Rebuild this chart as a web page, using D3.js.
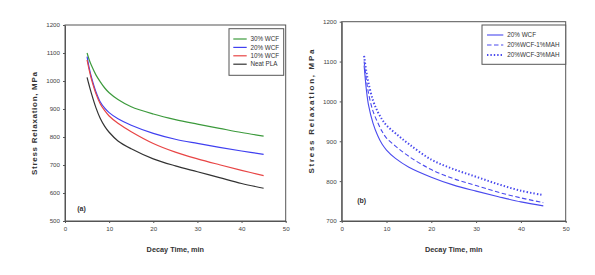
<!DOCTYPE html>
<html>
<head>
<meta charset="utf-8">
<script src="https://cdn.jsdelivr.net/npm/d3@7"></script>
<style>
  body { margin: 0; background: #fff; }
  text { font-family: "Liberation Sans", Arial, sans-serif; }
</style>
</head>
<body>
<script>
// panel (a) data
var timeA = [5, 5.5, 6, 7, 8, 9, 10, 12, 15, 20, 25, 30, 35, 40, 45];
var wcf30 = [1100, 1075, 1055, 1022, 997, 975, 958, 934, 908, 882, 862, 846, 831, 816, 803];
var wcf20 = [1087, 1045, 1013, 962, 925, 903, 887, 865, 842, 813, 792, 777, 763, 750, 738];
var wcf10 = [1075, 1038, 1006, 955, 918, 894, 875, 849, 819, 777, 746, 722, 701, 681, 662];
var neatPla = [1013, 983, 955, 905, 866, 838, 817, 786, 758, 722, 697, 676, 655, 634, 617];

// panel (b) data
var timeB = [5, 5.5, 6, 7, 8, 9, 10, 12, 15, 20, 25, 30, 35, 40, 45];
var wcf20b = [1090, 1030, 990, 945, 915, 893, 878, 857, 835, 810, 790, 775, 761, 748, 738];
var mah1 = [1100, 1055, 1020, 975, 948, 925, 908, 888, 862, 829, 806, 789, 772, 758, 746];
var mah3 = [1114, 1075, 1045, 1002, 975, 955, 940, 920, 893, 854, 830, 811, 792, 776, 765];

var xTicks = [0, 10, 20, 30, 40, 50];
var yTicksA = [500, 600, 700, 800, 900, 1000, 1100, 1200];
var yTicksB = [700, 800, 900, 1000, 1100, 1200];

var svg = d3.select("body").append("svg")
    .attr("width", 595)
    .attr("height", 275);

function panel(opt) {
    var x = d3.scaleLinear().domain([0, 50]).range([opt.left, opt.right]);
    var y = d3.scaleLinear().domain(opt.yDomain).range([opt.bottom, opt.top]);
    var g = svg.append("g");

    g.append("rect")
        .attr("x", opt.left).attr("y", opt.top)
        .attr("width", opt.right - opt.left).attr("height", opt.bottom - opt.top)
        .attr("fill", "none").attr("stroke", "#555").attr("stroke-width", 1);

    var ax = g.append("g")
        .attr("transform", "translate(0," + opt.bottom + ")")
        .call(d3.axisBottom(x).tickValues(xTicks).tickFormat(d3.format("d"))
            .tickSize(2).tickSizeOuter(0).tickPadding(4));
    var ay = g.append("g")
        .attr("transform", "translate(" + opt.left + ",0)")
        .call(d3.axisLeft(y).tickValues(opt.yTicks).tickFormat(d3.format("d"))
            .tickSize(2).tickSizeOuter(0).tickPadding(3));
    [ax, ay].forEach(function (a) {
        a.select(".domain").attr("stroke", "#555");
        a.selectAll(".tick line").attr("stroke", "#555");
        a.selectAll(".tick text").attr("fill", "#444")
            .style("font-size", "6.2px");
    });

    // axis titles
    g.append("text")
        .attr("x", (opt.left + opt.right) / 2)
        .attr("y", opt.bottom + 31)
        .attr("text-anchor", "middle")
        .style("font-size", "7.3px").style("font-weight", "bold").attr("fill", "#333")
        .text("Decay Time, min");
    g.append("text")
        .attr("transform", "translate(" + opt.yTitleX + "," + opt.yTitleY + ") rotate(-90)")
        .attr("text-anchor", "middle")
        .attr("textLength", opt.yTitleLen).attr("lengthAdjust", "spacing")
        .style("font-size", "8px").style("font-weight", "bold").attr("fill", "#333")
        .text("Stress Relaxation, MPa");

    // panel label
    g.append("text")
        .attr("x", opt.labelX).attr("y", opt.labelY)
        .attr("text-anchor", "middle")
        .style("font-size", "7px").style("font-weight", "bold").attr("fill", "#333")
        .text(opt.label);

    var line = d3.line().curve(d3.curveCatmullRom.alpha(0.5))
        .x(function (d) { return x(d[0]); })
        .y(function (d) { return y(d[1]); });

    opt.series.forEach(function (s) {
        g.append("path")
            .datum(opt.time.map(function (t, i) { return [t, s.values[i]]; }))
            .attr("d", line)
            .attr("fill", "none")
            .attr("stroke", s.color)
            .attr("stroke-width", s.width)
            .attr("stroke-dasharray", s.dash);
    });

    // legend
    var lg = opt.legend;
    g.append("rect")
        .attr("x", lg.x0).attr("y", lg.y0)
        .attr("width", lg.x1 - lg.x0).attr("height", lg.y1 - lg.y0)
        .attr("fill", "#fff").attr("stroke", "#555").attr("stroke-width", 1);
    opt.series.forEach(function (s, i) {
        var yy = lg.first + i * lg.step;
        g.append("line")
            .attr("x1", lg.lineX0).attr("x2", lg.lineX1)
            .attr("y1", yy).attr("y2", yy)
            .attr("stroke", s.color)
            .attr("stroke-width", s.width)
            .attr("stroke-dasharray", s.dash);
        g.append("text")
            .attr("x", lg.textX).attr("y", yy + 2.2)
            .style("font-size", "6.3px").attr("fill", "#333")
            .text(s.name);
    });
}

panel({
    left: 65, right: 285.7, top: 25, bottom: 221,
    yDomain: [500, 1200], yTicks: yTicksA,
    yTitleX: 37, yTitleY: 123.5, yTitleLen: 103,
    label: "(a)", labelX: 81.5, labelY: 210.5,
    time: timeA,
    series: [
        { name: "30% WCF", values: wcf30, color: "#3c9a3c", width: 1.2, dash: null },
        { name: "20% WCF", values: wcf20, color: "#4040f0", width: 1.2, dash: null },
        { name: "10% WCF", values: wcf10, color: "#e84545", width: 1.2, dash: null },
        { name: "Neat PLA", values: neatPla, color: "#333333", width: 1.2, dash: null }
    ],
    legend: { x0: 229, x1: 283.7, y0: 28.7, y1: 75.3, first: 39, step: 8.4,
              lineX0: 233.3, lineX1: 246.7, textX: 250.5 }
});

panel({
    left: 341.7, right: 565.7, top: 21.7, bottom: 221,
    yDomain: [700, 1200], yTicks: yTicksB,
    yTitleX: 314, yTitleY: 111.5, yTitleLen: 124,
    label: "(b)", labelX: 361.7, labelY: 202.5,
    time: timeB,
    series: [
        { name: "20% WCF", values: wcf20b, color: "#4a4aee", width: 1.1, dash: null },
        { name: "20%WCF-1%MAH", values: mah1, color: "#4a4aee", width: 1.1, dash: "4.5,2.5" },
        { name: "20%WCF-3%MAH", values: mah3, color: "#4a4aee", width: 2, dash: "1.4,2" }
    ],
    legend: { x0: 482, x1: 565.7, y0: 25, y1: 64.3, first: 35, step: 10,
              lineX0: 487, lineX1: 503.3, textX: 507.3 }
});
</script>
</body>
</html>
